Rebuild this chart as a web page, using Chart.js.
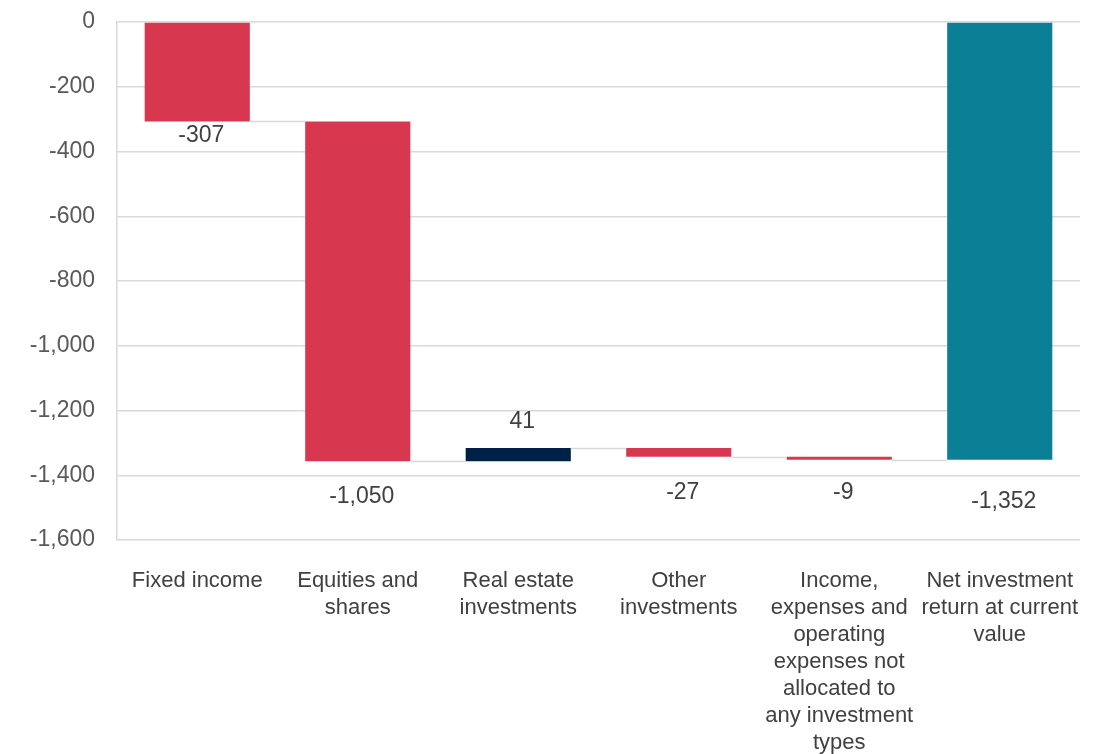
<!DOCTYPE html>
<html lang="en">
<head>
<meta charset="UTF-8">
<title>Net investment return waterfall</title>
<script src="https://cdn.jsdelivr.net/npm/chart.js@4.4.0/dist/chart.umd.min.js"></script>
<style>
  * { margin:0; padding:0; box-sizing:border-box; }
  body { background:#fff; width:1099px; height:754px; overflow:hidden; }
  .wrap { position:relative; width:1099px; height:754px; }
</style>
</head>
<body>
<div class="wrap"><canvas id="chart"></canvas></div>
<script>
// categories (multi-line labels as drawn)
const categories = [
  ['Fixed income'],
  ['Equities and', 'shares'],
  ['Real estate', 'investments'],
  ['Other', 'investments'],
  ['Income,', 'expenses and', 'operating', 'expenses not', 'allocated to', 'any investment', 'types'],
  ['Net investment', 'return at current', 'value']
];
// change per step, last one is the total
const changes = [-307, -1050, 41, -27, -9];
const total = -1352;
const yTicks = [0, -200, -400, -600, -800, -1000, -1200, -1400, -1600];

// colours + label offsets (px from bar edge)
const RED = '#d7384f', NAVY = '#002147', TEAL = '#0a7f96';
const labelGap = [14, 35, 26, 36, 33, 42];

// build floating bars
const ranges = [];
let run = 0;
changes.forEach(v => { ranges.push([run, run + v]); run += v; });
ranges.push([0, total]);
const values = changes.concat([total]);
const colors = values.map((v, i) => i === values.length - 1 ? TEAL : (v < 0 ? RED : NAVY));

const fmt = v => v.toLocaleString('en-US');

const waterfallExtras = {
  id: 'waterfallExtras',
  afterDatasetsDraw(chart) {
    const ctx = chart.ctx;
    const y = chart.scales.y;
    const bars = chart.getDatasetMeta(0).data;
    ctx.save();
    // connectors
    ctx.strokeStyle = '#d9d9d9';
    ctx.lineWidth = 1.5;
    for (let i = 0; i < bars.length - 1; i++) {
      const a = bars[i], b = bars[i + 1];
      const py = Math.round(y.getPixelForValue(ranges[i][1])) + 0.5;
      ctx.beginPath();
      ctx.moveTo(a.x + a.width / 2, py);
      ctx.lineTo(b.x - b.width / 2, py);
      ctx.stroke();
    }
    // value labels
    ctx.fillStyle = '#404040';
    ctx.font = '23px "Liberation Sans", Arial, sans-serif';
    ctx.textAlign = 'center';
    ctx.textBaseline = 'middle';
    bars.forEach((bar, i) => {
      const v = values[i];
      const lo = Math.min(ranges[i][0], ranges[i][1]);
      const hi = Math.max(ranges[i][0], ranges[i][1]);
      const py = v < 0 ? y.getPixelForValue(lo) + labelGap[i] : y.getPixelForValue(hi) - labelGap[i];
      ctx.fillText(fmt(v), bar.x + 4, py);
    });
    ctx.restore();
  }
};

new Chart(document.getElementById('chart').getContext('2d'), {
  type: 'bar',
  data: {
    labels: categories,
    datasets: [{ data: ranges, backgroundColor: colors, borderWidth: 0, barPercentage: 0.655, categoryPercentage: 1 }]
  },
  options: {
    responsive: true,
    maintainAspectRatio: false,
    animation: false,
    layout: { padding: { top: 22, right: 19, bottom: 0, left: 0 } },
    plugins: { legend: { display: false }, tooltip: { enabled: false } },
    scales: {
      x: {
        grid: { display: false, drawTicks: false },
        border: { display: false },
        ticks: {
          color: '#404040', autoSkip: false, maxRotation: 0, padding: 27,
          font: { family: '"Liberation Sans", Arial, sans-serif', size: 22, lineHeight: 1.23 }
        },
        afterFit: s => { s.height = 214; s.paddingLeft = 0; s.paddingRight = 0; }
      },
      y: {
        min: -1600, max: 0,
        afterBuildTicks: s => { s.ticks = yTicks.map(v => ({ value: v })); },
        grid: { color: '#d9d9d9', lineWidth: 1.5, drawTicks: false },
        border: { display: true, color: '#d9d9d9', width: 1.5 },
        ticks: {
          color: '#595959', padding: 22,
          font: { family: '"Liberation Sans", Arial, sans-serif', size: 23 },
          callback: v => fmt(v)
        },
        afterFit: s => { s.width = 117; s.paddingTop = 0; s.paddingBottom = 0; }
      }
    }
  },
  plugins: [waterfallExtras]
});
</script>
</body>
</html>
